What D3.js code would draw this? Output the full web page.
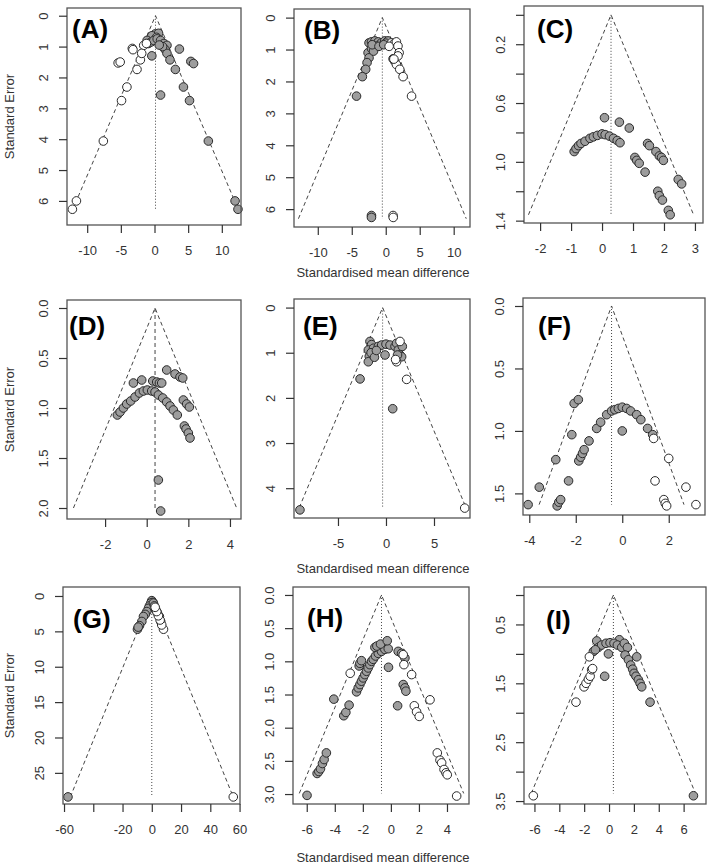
<!DOCTYPE html>
<html>
<head>
<meta charset="utf-8">
<script src="https://cdn.jsdelivr.net/npm/d3@7"></script>
<style>
  body { margin: 0; background: #fff; }
  text { font-family: "Liberation Sans", Arial, sans-serif; }
</style>
</head>
<body>
<svg id="chart" width="715" height="865"></svg>
<script>
// ---- data: [effect, standard error] ----
const aFilled = [[0.1,0.59],[0.6,0.57],[-0.4,0.65],[0.3,0.7],[-1.1,0.8],[-0.9,0.9],[-0.5,0.85],[-0.1,0.8],[0.4,0.75],[0.9,0.8],[1.4,0.9],[1.85,0.96],[1.6,1.1],[1.85,1.22],[2.3,1.43],[3.1,1.74],[3.7,1.08],[4.3,2.31],[5.2,2.75],[5.4,1.48],[5.8,1.55],[8.0,4.06],[11.97,6.0],[12.4,6.27],[0.9,2.57],[-0.4,1.3],[1.2,1.0],[0.7,0.95]];
const aOpen = [[-3.3,1.06],[-3.2,1.1],[-5.4,1.53],[-5.1,1.5],[-2.6,1.74],[-4.1,2.31],[-4.9,2.75],[-7.6,4.06],[-11.6,6.0],[-12.2,6.27],[-2.1,1.43],[-1.6,0.96],[-1.2,0.9],[-1.9,1.22]];

const bFilled = [[-2.46,0.79],[-2.1,0.76],[-1.6,0.73],[-1.1,0.76],[-0.64,0.79],[-0.15,0.73],[0.34,0.73],[-2.6,1.1],[-2.46,1.26],[-2.75,1.41],[-2.95,1.62],[-3.44,1.85],[-4.3,2.46],[-2.1,0.97],[-1.4,0.89],[-1.8,1.05],[-2.0,0.85],[-1.0,0.9],[-2.1,6.2],[-2.1,6.26],[0.0,0.8],[-0.3,0.85],[1.08,1.29],[1.3,1.36]];
const bOpen = [[0.84,0.79],[1.33,0.79],[1.57,0.76],[1.8,0.89],[1.97,1.1],[1.57,1.47],[2.06,1.62],[2.55,1.85],[3.8,2.46],[1.08,6.2],[1.1,6.26],[0.5,0.9],[1.8,1.2],[1.2,1.3]];

const cFilled = [[0.08,0.70],[0.56,0.73],[0.88,0.77],[-0.9,0.93],[-0.84,0.91],[-0.76,0.89],[-0.68,0.875],[-0.55,0.86],[-0.39,0.84],[-0.28,0.83],[-0.15,0.82],[0.0,0.81],[0.1,0.815],[0.24,0.825],[0.37,0.84],[0.49,0.855],[0.58,0.87],[1.47,0.875],[1.53,0.89],[1.74,0.93],[1.85,0.96],[1.92,0.97],[1.98,0.99],[1.06,0.97],[1.12,0.99],[1.2,1.01],[1.39,1.07],[2.46,1.12],[2.57,1.15],[1.8,1.2],[1.85,1.23],[1.95,1.26],[2.14,1.33],[2.2,1.36]];
const cOpen = [];

const dFilled = [[0.96,0.62],[1.36,0.66],[1.6,0.69],[1.73,0.70],[-0.64,0.75],[-0.24,0.72],[0.29,0.73],[0.48,0.74],[0.61,0.75],[0.72,0.75],[-1.41,1.07],[-1.28,1.04],[-1.12,1.0],[-0.96,0.96],[-0.77,0.93],[-0.56,0.89],[-0.35,0.85],[-0.16,0.83],[0.03,0.82],[0.24,0.83],[0.4,0.84],[0.56,0.87],[0.77,0.9],[0.96,0.94],[1.12,0.98],[1.28,1.02],[1.47,1.07],[1.76,0.92],[1.92,0.96],[2.05,0.99],[1.81,1.18],[1.89,1.21],[2.0,1.25],[2.08,1.3],[0.56,1.72],[0.67,2.03]];
const dOpen = [];

const eFilled = [[-8.96,4.48],[-2.7,1.58],[0.7,2.24],[-0.1,1.05],[-1.67,0.75],[-1.5,0.82],[-1.84,0.94],[-1.74,1.08],[-1.84,1.2],[-1.3,0.9],[-1.55,1.0],[-1.2,1.1],[-0.8,0.86],[-0.45,0.83],[0,0.81],[0.42,0.83],[0.94,0.86],[1.1,0.79],[1.28,0.94],[1.46,1.05],[1.63,1.09],[1.7,0.86],[1.2,1.05],[-1.0,0.95]];
const eOpen = [[8.2,4.44],[2.15,1.59],[1.1,1.2],[1.46,0.75],[1.0,1.15]];

const fFilled = [[-4.05,1.59],[-3.57,1.45],[-2.86,1.23],[-2.8,1.6],[-2.73,1.57],[-2.65,1.55],[-2.31,1.40],[-2.17,1.03],[-2.07,0.78],[-1.89,0.75],[-1.87,1.24],[-1.79,1.21],[-1.71,1.18],[-1.64,1.15],[-1.43,1.08],[-1.1,0.98],[-0.93,0.93],[-0.67,0.87],[-0.46,0.84],[-0.32,0.83],[-0.17,0.82],[0,0.81],[0.19,0.82],[0.36,0.84],[0.62,0.87],[0.8,0.91],[1.09,0.98],[1.31,1.03],[0,1.0]];
const fOpen = [[1.35,1.06],[2.0,1.22],[1.41,1.40],[1.79,1.55],[1.85,1.58],[1.91,1.6],[2.74,1.45],[3.17,1.59]];

const gFilled = [[-57.3,28.4],[0,0.66],[0.7,0.9],[-0.7,1.0],[-1.6,1.4],[-2.3,1.75],[-3.4,2.2],[-4.5,2.6],[-5.7,2.9],[-6.8,3.6],[-8.4,4.2],[-9.8,4.7],[-9.3,4.4],[1.1,1.0],[1.8,1.4],[2.7,1.9],[3.9,2.4],[5.2,2.9],[6.1,3.6]];
const gOpen = [[55.7,28.4],[8.0,4.7],[6.8,4.1],[5.7,3.4],[4.5,2.8],[3.4,2.2],[2.3,1.6]];

const hFilled = [[-5.98,3.02],[-5.26,2.69],[-5.14,2.66],[-5.02,2.62],[-4.88,2.54],[-4.76,2.48],[-4.6,2.38],[-4.07,1.57],[-3.36,1.82],[-3.21,1.77],[-2.98,1.66],[-2.26,1.07],[-2.21,1.03],[-2.1,0.99],[-2.45,1.46],[-2.33,1.4],[-2.21,1.35],[-2.1,1.3],[-1.98,1.25],[-1.86,1.2],[-1.74,1.15],[-1.62,1.1],[-1.5,1.05],[-1.38,1.0],[-1.26,0.97],[-1.1,0.92],[-0.9,0.88],[-0.67,0.85],[-0.43,0.82],[-0.19,0.81],[-1.14,0.79],[-1.0,0.77],[-0.74,0.74],[-0.26,0.69],[-0.17,1.09],[0.48,1.67],[0.52,0.85],[0.76,0.88],[1.0,0.95],[0.88,1.35],[1.0,1.4],[1.07,1.45]];
const hOpen = [[0.88,0.9],[0.93,1.05],[1.48,1.2],[2.79,1.58],[1.67,1.67],[1.83,1.76],[2.02,1.83],[3.31,2.38],[3.5,2.49],[3.62,2.53],[3.79,2.63],[3.93,2.68],[4.02,2.71],[4.69,3.03],[-2.9,1.18]];

const iFilled = [[6.79,3.41],[3.3,1.82],[-0.35,1.38],[-0.05,1.0],[-0.99,0.78],[0.83,0.76],[-1.26,0.96],[-0.86,0.89],[-0.6,0.85],[-0.24,0.82],[0.08,0.81],[0.4,0.82],[0.67,0.85],[1.02,0.89],[1.23,0.82],[1.48,0.89],[1.29,1.02],[1.56,1.1],[1.74,1.19],[1.9,1.26],[2.01,1.33],[2.17,1.38],[2.36,1.44],[2.5,1.5],[2.63,1.56],[2.23,1.05],[-1.1,0.93]];
const iOpen = [[-6.09,3.41],[-2.66,1.82],[-2.01,1.56],[-1.85,1.5],[-1.66,1.43],[-1.52,1.38],[-1.4,1.27],[-1.32,1.25],[-1.58,1.05]];

const panelNames = ['(A)','(B)','(C)','(D)','(E)','(F)','(G)','(H)','(I)'];
const funnelCenters = [0.15, -0.5, 0.29, 0.4, -0.35, -0.46, 0, -0.67, 0.35];
const funnelSeMax = [6.28, 6.3, 1.36, 2.0, 4.43, 1.59, 28.4, 2.99, 3.37];

// tick values and labels
const xTicksA = [-10,-5,0,5,10],  xLabA = ['-10','-5','0','5','10'];
const xTicksC = [-2,-1,0,1,2,3],  xLabC = ['-2','-1','0','1','2','3'];
const xTicksD = [-2,0,2,4],       xLabD = ['-2','0','2','4'];
const xTicksE = [-5,0,5],         xLabE = ['-5','0','5'];
const xTicksF = [-4,-2,0,2],      xLabF = ['-4','-2','0','2'];
const xTicksG = [-60,-40,-20,0,20,40,60], xLabG = ['-60','','-20','0','20','40','60'];
const xTicksH = [-6,-4,-2,0,2,4], xLabH = ['-6','-4','-2','0','2','4'];
const xTicksI = [-6,-4,-2,0,2,4,6], xLabI = ['-6','-4','-2','0','2','4','6'];
const yTicksAB = [0,1,2,3,4,5,6], yLabAB = ['0','1','2','3','4','5','6'];
const yTicksC = [0,0.2,0.4,0.6,0.8,1.0,1.2,1.4], yLabC = ['','0.2','','0.6','','1.0','','1.4'];
const yTicksD = [0,0.5,1,1.5,2], yLabD = ['0.0','0.5','1.0','1.5','2.0'];
const yTicksE = [0,1,2,3,4], yLabE = ['0','1','2','3','4'];
const yTicksF = [0,0.5,1,1.5], yLabF = ['0.0','0.5','1.0','1.5'];
const yTicksG = [0,5,10,15,20,25], yLabG = ['0','5','10','15','20','25'];
const yTicksH = [0,0.5,1,1.5,2,2.5,3], yLabH = ['0.0','0.5','1.0','1.5','2.0','2.5','3.0'];
const yTicksI = [0,0.5,1,1.5,2,2.5,3,3.5], yLabI = ['','0.5','','1.5','','2.5','','3.5'];

// ---- layout ----
const panels = [
  {box:[67,8,241,225],   xd:[-13,12.85],   yd:[-0.25,6.78],  filled:aFilled, open:aOpen, xt:xTicksA, xl:xLabA, yt:yTicksAB, yl:yLabAB, lab:[5,30]},
  {box:[294,9,470,227],  xd:[-13.5,12.4],  yd:[-0.27,6.56],  filled:bFilled, open:bOpen, xt:xTicksA, xl:xLabA, yt:yTicksAB, yl:yLabAB, lab:[10,30]},
  {box:[524,6,703,223],  xd:[-2.52,3.26],  yd:[-0.06,1.416], filled:cFilled, open:cOpen, xt:xTicksC, xl:xLabC, yt:yTicksC, yl:yLabC, lab:[13,32]},
  {box:[67,300,241,519], xd:[-3.83,4.53],  yd:[-0.08,2.11],  filled:dFilled, open:dOpen, xt:xTicksD, xl:xLabD, yt:yTicksD, yl:yLabD, lab:[2,35], dashedCenter:true},
  {box:[294,299,470,518],xd:[-9.58,8.75],  yd:[-0.19,4.66],  filled:eFilled, open:eOpen, xt:xTicksE, xl:xLabE, yt:yTicksE, yl:yLabE, lab:[9,36]},
  {box:[523,298,705,515],xd:[-4.27,3.56],  yd:[-0.064,1.673],filled:fFilled, open:fOpen, xt:xTicksF, xl:xLabF, yt:yTicksF, yl:yLabF, lab:[15,37]},
  {box:[63,587,240,804], xd:[-60.7,60.3],  yd:[-1.27,29.4],  filled:gFilled, open:gOpen, xt:xTicksG, xl:xLabG, yt:yTicksG, yl:yLabG, lab:[10,41]},
  {box:[293,587,469,804],xd:[-6.98,5.57],  yd:[-0.12,3.15],  filled:hFilled, open:hOpen, xt:xTicksH, xl:xLabH, yt:yTicksH, yl:yLabH, lab:[14,40]},
  {box:[524,587,706,804],xd:[-6.84,7.8],   yd:[-0.136,3.55], filled:iFilled, open:iOpen, xt:xTicksI, xl:xLabI, yt:yTicksI, yl:yLabI, lab:[22,42]}
];

const svg = d3.select('#chart');
const ink = '#333';

panels.forEach((p, k) => {
  const [x0, y0, x1, y1] = p.box;
  const x = d3.scaleLinear().domain(p.xd).range([x0, x1]);
  const y = d3.scaleLinear().domain(p.yd).range([y0, y1]);
  const g = svg.append('g');
  const c = funnelCenters[k], se = funnelSeMax[k];

  // funnel
  g.append('path')
    .attr('d', d3.line()([[x(c - 1.96 * se), y(se)], [x(c), y(0)], [x(c + 1.96 * se), y(se)]]))
    .attr('fill', 'none').attr('stroke', '#444').attr('stroke-width', 1)
    .attr('stroke-dasharray', '4,3');
  g.append('line')
    .attr('x1', x(c)).attr('x2', x(c)).attr('y1', y(0)).attr('y2', y(se))
    .attr('stroke', '#444').attr('stroke-width', 1)
    .attr('stroke-dasharray', p.dashedCenter ? '4,3' : '1,2');

  // points
  g.selectAll('.f').data(p.filled).enter().append('circle')
    .attr('cx', d => x(d[0])).attr('cy', d => y(d[1])).attr('r', 4.3)
    .attr('fill', '#9d9d9d').attr('stroke', '#2a2a2a').attr('stroke-width', 1);
  g.selectAll('.o').data(p.open).enter().append('circle')
    .attr('cx', d => x(d[0])).attr('cy', d => y(d[1])).attr('r', 4.3)
    .attr('fill', '#fff').attr('stroke', '#2a2a2a').attr('stroke-width', 1);

  // box
  g.append('rect').attr('x', x0).attr('y', y0).attr('width', x1 - x0).attr('height', y1 - y0)
    .attr('fill', 'none').attr('stroke', '#555').attr('stroke-width', 1.3);

  // axes
  const xa = g.append('g').attr('transform', 'translate(0,' + y1 + ')')
    .call(d3.axisBottom(x).tickValues(p.xt).tickSize(8).tickFormat((d, i) => p.xl[i]));
  const ya = g.append('g').attr('transform', 'translate(' + x0 + ',0)')
    .call(d3.axisLeft(y).tickValues(p.yt).tickSize(8).tickFormat((d, i) => p.yl[i]));
  [xa, ya].forEach(a => {
    a.select('.domain').remove();
    a.selectAll('.tick line').attr('stroke', ink).attr('stroke-width', 1.2);
    a.selectAll('.tick text').attr('fill', ink).style('font-size', '13px')
      .style('font-family', '"Liberation Sans", Arial, sans-serif');
  });
  xa.selectAll('.tick text').attr('y', 30).attr('dy', 0);
  ya.selectAll('.tick text').attr('transform', 'rotate(-90)')
    .attr('x', 0).attr('y', -19.5).attr('dy', 0).attr('text-anchor', 'middle');

  // panel label
  g.append('text').attr('x', x0 + p.lab[0]).attr('y', y0 + p.lab[1])
    .attr('font-size', 26).attr('font-weight', 'bold').attr('fill', '#000')
    .text(panelNames[k]);
});

// axis titles
[116.5, 409.5, 695.5].forEach(cy => {
  svg.append('text').attr('transform', 'translate(14,' + cy + ') rotate(-90)')
    .attr('text-anchor', 'middle').attr('font-size', 13).attr('fill', ink)
    .text('Standard Error');
});
[276.5, 572.5, 862].forEach(by => {
  svg.append('text').attr('x', 383).attr('y', by)
    .attr('text-anchor', 'middle').attr('font-size', 13).attr('fill', ink)
    .text('Standardised mean difference');
});
</script>
</body>
</html>
